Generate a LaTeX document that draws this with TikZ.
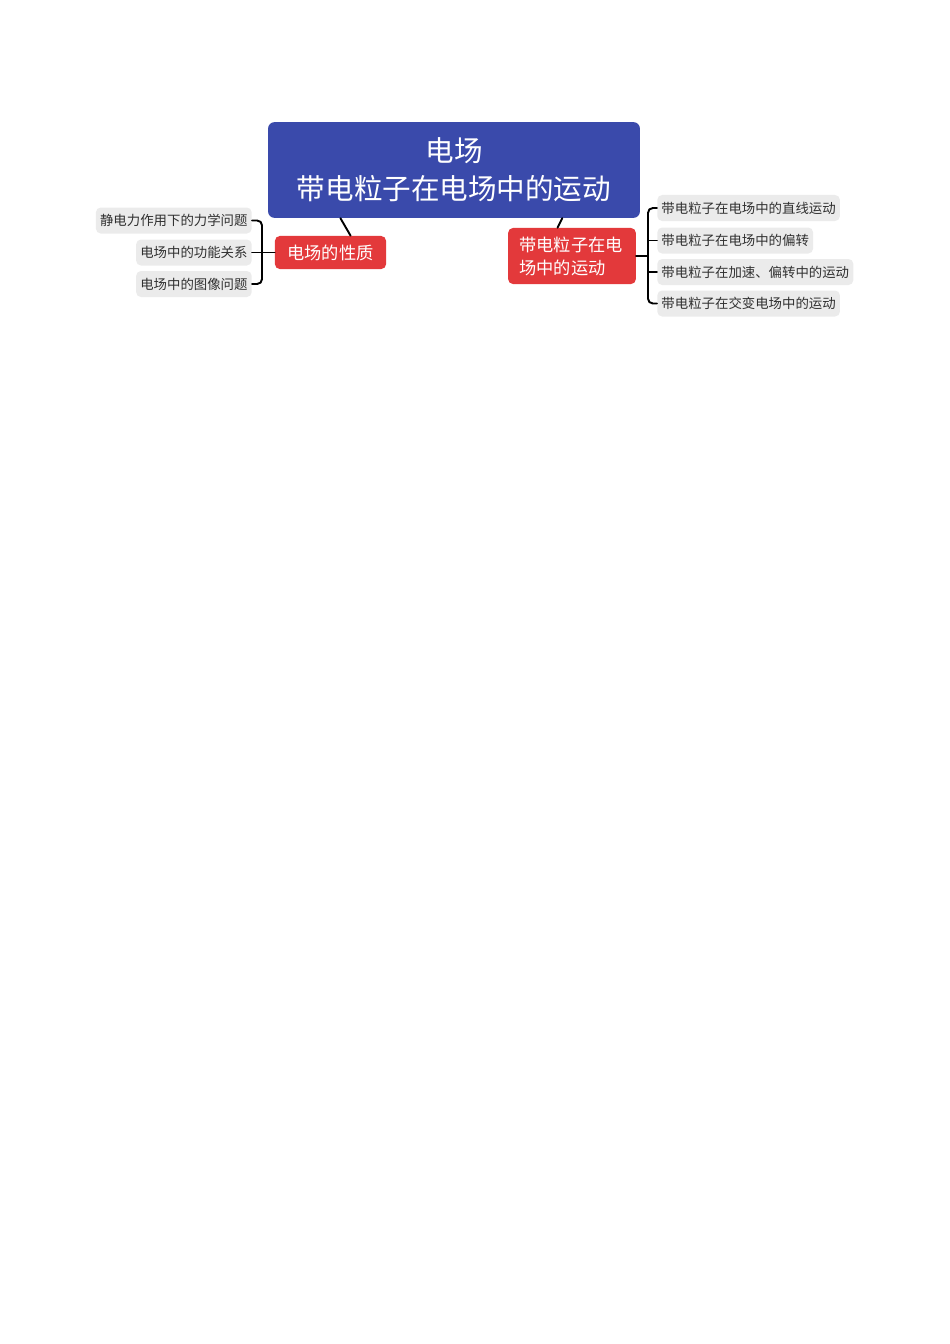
\documentclass[tikz,border=0pt]{standalone}
\usepackage{fontspec}
\setmainfont{Noto Sans CJK SC}
\definecolor{rootblue}{HTML}{3A4AAB}
\definecolor{topicred}{HTML}{E3393B}
\definecolor{leafgray}{HTML}{EBEBEB}
\definecolor{leaftext}{HTML}{303030}
\begin{document}
\begin{tikzpicture}[x=0.6266pt,y=-0.6266pt,
	root/.style={fill=rootblue,text=white,rounded corners=4pt,minimum width=233pt,minimum height=60pt,align=center,font=\fontsize{17.9}{23.8}\selectfont},
	topic/.style={fill=topicred,text=white,rounded corners=3pt,font=\fontsize{10.8}{14.4}\selectfont},
	leaf/.style={fill=leafgray,text=leaftext,rounded corners=3pt,minimum height=16.3pt,inner xsep=2.6pt,inner ysep=0pt,font=\fontsize{8.4}{10}\selectfont},
	link/.style={line width=1.2pt,line cap=round}]
	\useasboundingbox (0,0) rectangle (950,1344);
	\node[root] (root) at (454,170) {电场\\带电粒子在电场中的运动};
	\node[topic,minimum width=69.6pt,minimum height=20.7pt] (lc) at (330.5,252.5) {电场的性质};
	\node[topic,minimum height=35.1pt,text width=66pt,inner xsep=7pt,align=left] (rc) at (572,256) {带电粒子在电\\场中的运动};
	\draw[link] (root.203) -- (lc.40);
	\draw[link] (root.336) -- (rc.117);
	% left branch
	\node[leaf,anchor=east] (l1) at (252,220.5) {静电力作用下的力学问题};
	\node[leaf,anchor=east] (l2) at (252,252.5) {电场中的功能关系};
	\node[leaf,anchor=east] (l3) at (252,284) {电场中的图像问题};
	\coordinate (lb) at (262,252.5);
	\draw[link,rounded corners=3pt] (l1.east) -| (lb) |- (l3.east);
	\draw[link] (l2.east) -- (lc.west);
	% right branch
	\node[leaf,anchor=west] (r1) at (657,208) {带电粒子在电场中的直线运动};
	\node[leaf,anchor=west] (r2) at (657,240.5) {带电粒子在电场中的偏转};
	\node[leaf,anchor=west] (r3) at (657,272) {带电粒子在加速、偏转中的运动};
	\node[leaf,anchor=west] (r4) at (657,303.5) {带电粒子在交变电场中的运动};
	\coordinate (rb) at (648,256);
	\draw[link,rounded corners=3pt] (r1.west) -| (rb) |- (r4.west);
	\draw[link] (rc.east) -- (rb);
	\draw[link] (rb |- r2.west) -- (r2.west);
	\draw[link] (rb |- r3.west) -- (r3.west);
\end{tikzpicture}
\end{document}
